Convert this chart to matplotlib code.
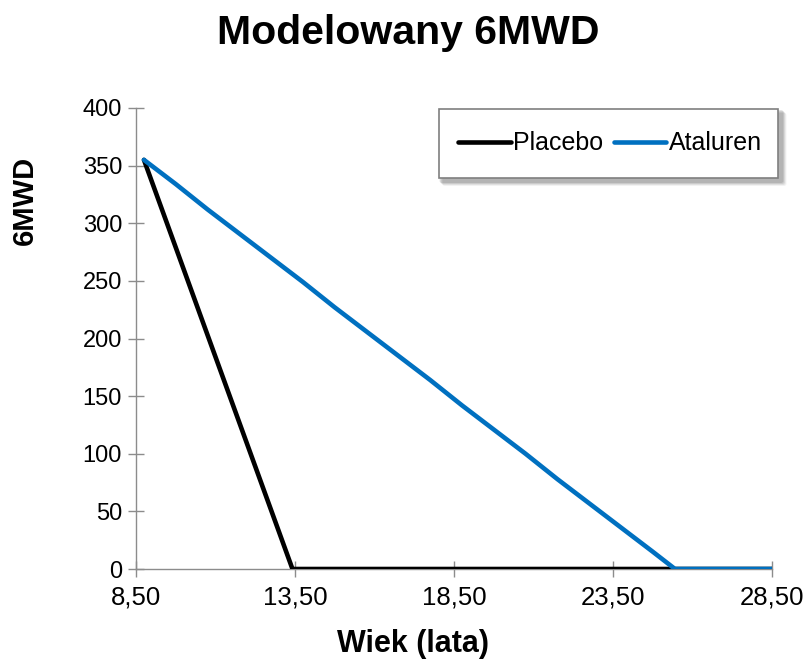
import matplotlib
matplotlib.use("Agg")
import matplotlib.pyplot as plt
from matplotlib.patches import FancyBboxPatch, Rectangle
from matplotlib.ticker import FixedLocator, FuncFormatter

plt.rcParams['font.family'] = ['Liberation Sans', 'DejaVu Sans']

# Modelled 6MWD by age (years)
placebo_age = [8.75, 9.75, 10.75, 11.75, 12.75, 13.42, 28.5]
placebo_6mwd = [355, 279, 203, 127, 51, 0, 0]

ataluren_age = [8.75, 9.75, 10.75, 11.75, 12.75, 13.75, 14.75, 15.75, 16.75,
                17.75, 18.75, 19.75, 20.75, 21.75, 22.75, 23.75, 24.75, 25.45, 28.5]
ataluren_6mwd = [355, 334, 312, 291, 270, 249, 227, 206, 185,
                 164, 142, 121, 100, 78, 57, 36, 15, 0, 0]

x_ticks = [8.5, 13.5, 18.5, 23.5, 28.5]
y_ticks = [0, 50, 100, 150, 200, 250, 300, 350, 400]

W, H = 808, 663
fig = plt.figure(figsize=(W / 100, H / 100), dpi=100)
ax = fig.add_axes([136 / W, 1 - 569 / H, (772 - 136) / W, (569 - 108) / H])

axis_gray = '#8c8c8c'
ax.plot(placebo_age, placebo_6mwd, color='black', lw=3.3, label='Placebo',
        solid_joinstyle='round', solid_capstyle='round', zorder=3)
ax.plot(ataluren_age, ataluren_6mwd, color='#0070c0', lw=3.3, label='Ataluren',
        solid_joinstyle='round', solid_capstyle='round', zorder=4)

ax.set_xlim(8.5, 28.5)
ax.set_ylim(0, 400)
ax.xaxis.set_major_locator(FixedLocator(x_ticks))
ax.yaxis.set_major_locator(FixedLocator(y_ticks))
ax.xaxis.set_major_formatter(FuncFormatter(lambda v, p: f"{v:.2f}".replace('.', ',')))
ax.yaxis.set_major_formatter(FuncFormatter(lambda v, p: f"{int(v)}"))

for side in ('top', 'right'):
    ax.spines[side].set_visible(False)
for side in ('left', 'bottom'):
    ax.spines[side].set_color(axis_gray)
    ax.spines[side].set_linewidth(1.0)
ax.tick_params(axis='both', direction='inout', length=12, width=1.0,
               color=axis_gray, labelcolor='black')
ax.tick_params(axis='y', labelsize=17, pad=4)
ax.tick_params(axis='x', labelsize=18.5, pad=6)

fig.text(413 / W, 1 - 644 / H, 'Wiek (lata)', fontsize=22, fontweight='bold',
         ha='center', va='center')
fig.text(25 / W, 1 - 200 / H, '6MWD', fontsize=21, fontweight='bold',
         ha='center', va='center', rotation=90)
fig.text(408 / W, 1 - 33 / H, 'Modelowany 6MWD', fontsize=29.5, fontweight='bold',
         ha='center', va='center')

# Legend box with a soft drop shadow
lx0, lx1 = 439 / W, 778 / W
ly1, ly0 = 1 - 109 / H, 1 - 178 / H
for i, a in enumerate([0.05, 0.07, 0.09, 0.11]):
    off = (6 - i) / W
    offy = (6 - i) / H
    fig.patches.append(FancyBboxPatch((lx0 + off, ly0 - offy), lx1 - lx0, ly1 - ly0,
                                      boxstyle='round,pad=0.003', transform=fig.transFigure,
                                      facecolor='black', edgecolor='none', alpha=a, zorder=5))
fig.patches.append(Rectangle((lx0, ly0), lx1 - lx0, ly1 - ly0, transform=fig.transFigure,
                             facecolor='white', edgecolor='#7f7f7f', lw=1.2, zorder=6))
handles, labels = ax.get_legend_handles_labels()
leg = fig.legend(handles, labels, loc='center',
                 bbox_to_anchor=((lx0 + lx1) / 2 + 0.002, (ly0 + ly1) / 2),
                 bbox_transform=fig.transFigure, ncol=2, fontsize=18, frameon=False,
                 handlelength=2.1, handletextpad=0.1, columnspacing=0.4, borderpad=0)
leg.set_zorder(7)

fig.savefig('out.png', dpi=100)
